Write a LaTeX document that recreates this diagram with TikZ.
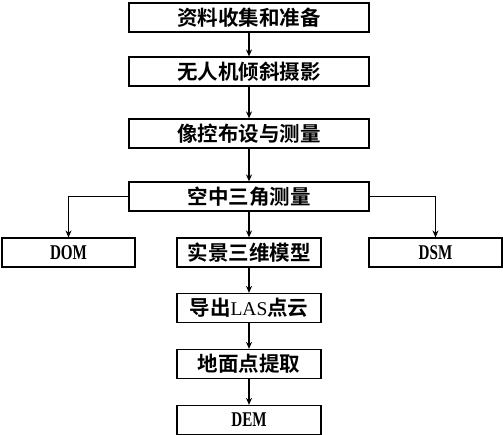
\documentclass[tikz,border=0pt]{standalone}
\usepackage{fontspec}
\setmainfont{Liberation Serif}[FakeStretch=0.72]
\newfontfamily\latwide{Liberation Serif}
\newfontfamily\cjk{Noto Sans CJK SC}[BoldFont={* Bold}]
\usetikzlibrary{arrows.meta}
\tikzset{
  box/.style={draw=black, line width=1.2pt, fill=white, inner sep=0pt,
    minimum height=29pt, font=\fontsize{20.5}{22}\selectfont\cjk\bfseries},
  wide/.style={box, minimum width=240pt},
  mid/.style={box, minimum width=144pt},
  side/.style={box, minimum width=133pt},
  flow/.style={line width=1.2pt, -{Stealth[length=7pt,width=6pt]}}
}
\newcommand\lat[1]{{\normalfont\fontsize{21}{22}\selectfont\bfseries #1}}
\begin{document}
\begin{tikzpicture}[x=1pt,y=-1pt]
\useasboundingbox (0,0) rectangle (503,435);
\node[wide] (b1) at (249,17.5) {资料收集和准备};
\node[wide] (b2) at (249,71.5) {无人机倾斜摄影};
\node[wide] (b3) at (249,133.5) {像控布设与测量};
\node[wide] (b4) at (249,196.5) {空中三角测量};
\node[side] (dom) at (68.5,252.5) {\lat{DOM}};
\node[mid] (model) at (249,252.5) {实景三维模型};
\node[side] (dsm) at (435.5,252.5) {\lat{DSM}};
\node[mid] (las) at (249,308) {导出{\latwide\mdseries\fontsize{19.5}{22}\selectfont LAS}点云};
\node[mid] (ground) at (249,364) {地面点提取};
\node[mid] (dem) at (249,420) {\lat{DEM}};
\draw[flow] (b1) -- (b2);
\draw[flow] (b2) -- (b3);
\draw[flow] (b3) -- (b4);
\draw[flow] (b4) -- (model);
\draw[flow] (b4.west) -| (dom.north);
\draw[flow] (b4.east) -| (dsm.north);
\draw[flow] (model) -- (las);
\draw[flow] (las) -- (ground);
\draw[flow] (ground) -- (dem);
\end{tikzpicture}
\end{document}
